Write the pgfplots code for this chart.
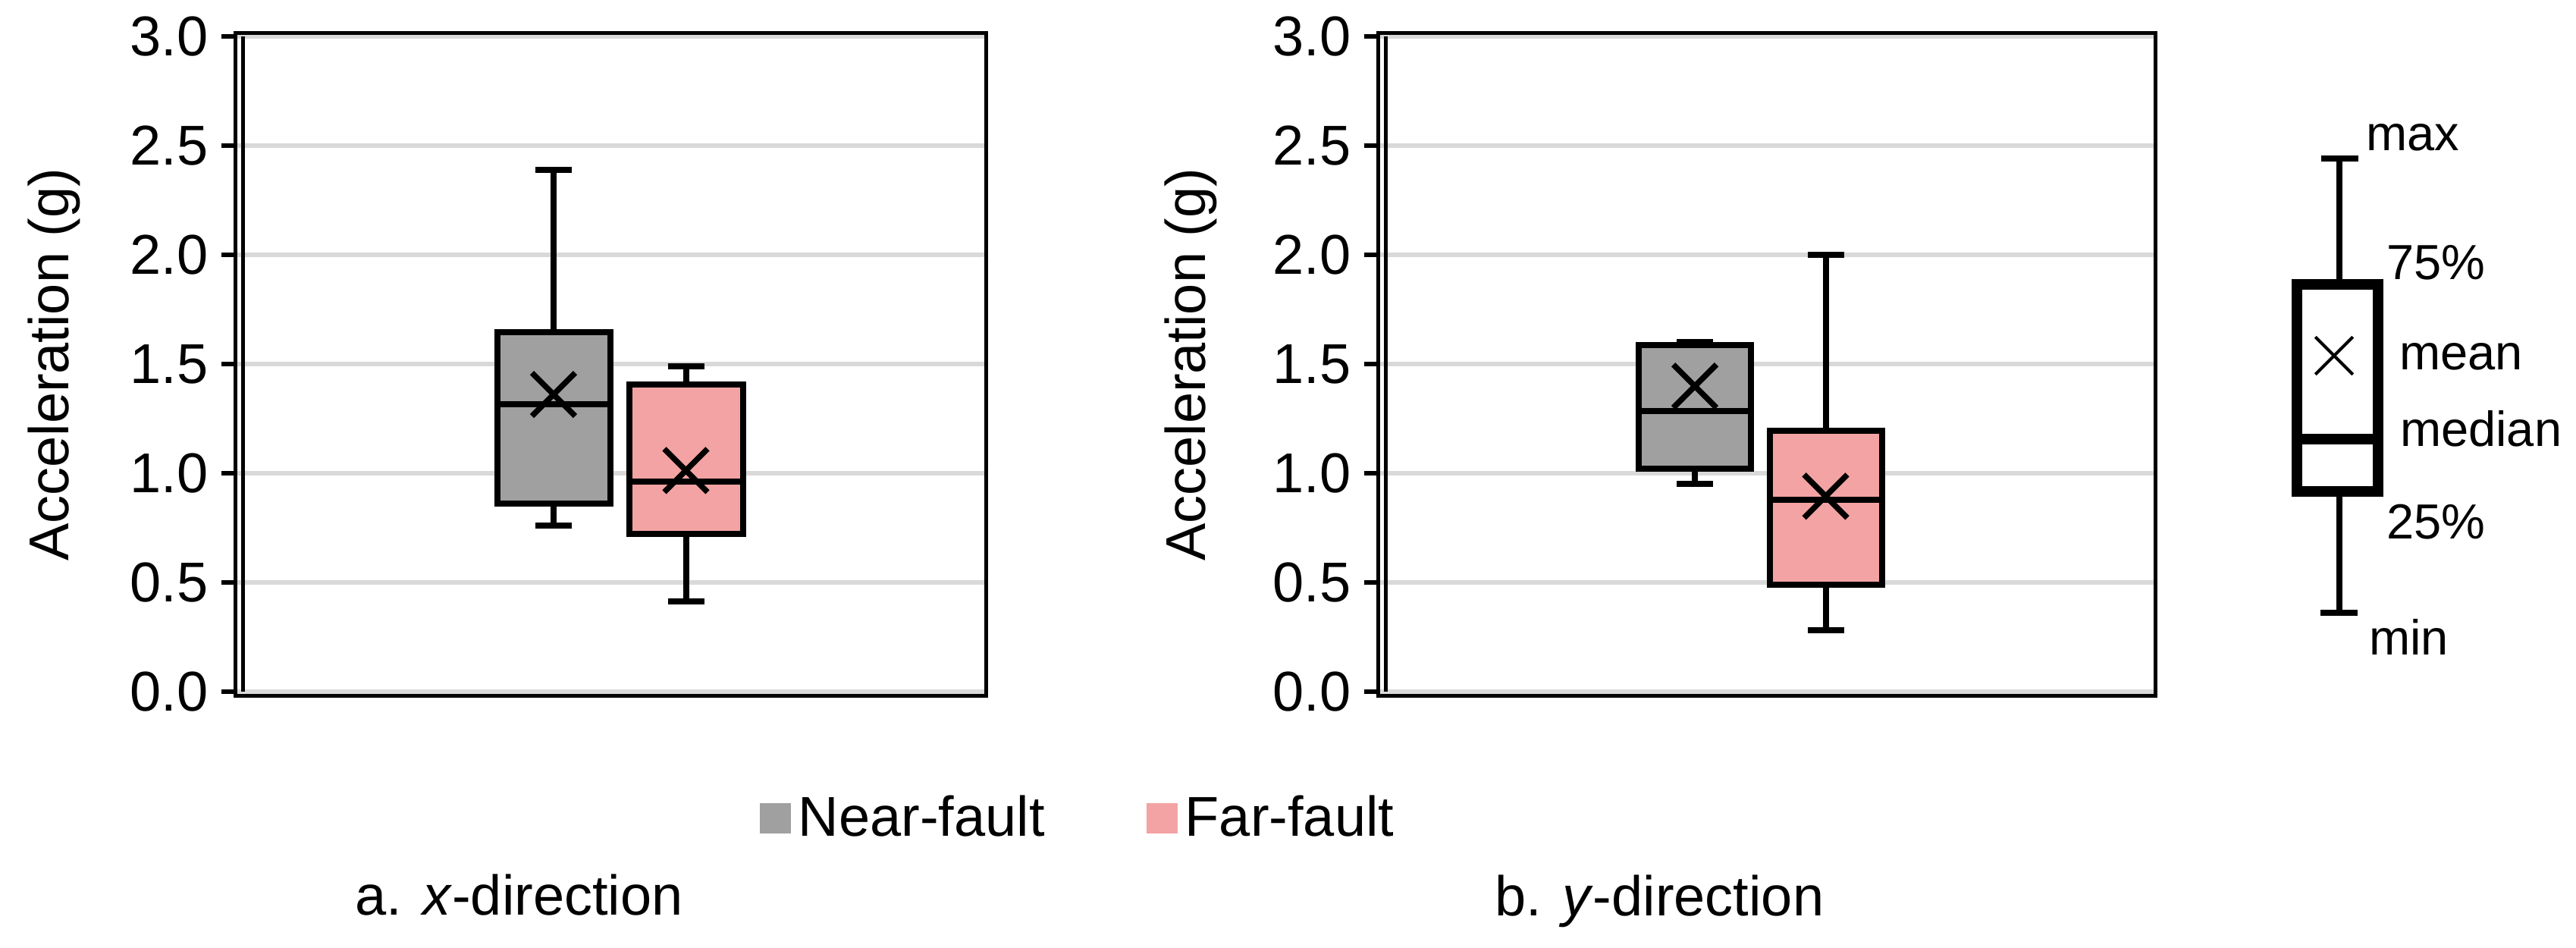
\documentclass[border=0pt]{standalone}
\usepackage{fontspec}
\setmainfont{Liberation Sans}
\usepackage{pgfplots}
\pgfplotsset{compat=1.18}
\definecolor{nearc}{HTML}{A0A0A0}
\definecolor{farc}{HTML}{F3A3A3}
\definecolor{gridc}{HTML}{D9D9D9}
\newcommand{\mainfs}{\fontsize{14.8}{17}\selectfont}
\newcommand{\keyfs}{\fontsize{13}{15}\selectfont}
\pgfplotsset{
  panel/.style={
    scale only axis,
    height=174.8pt,
    ymin=-0.02, ymax=3.015,
    xmin=0,
    axis line style={line width=1pt, black},
    ytick={0,0.5,1,1.5,2,2.5,3},
    xtick=\empty,
    ytick pos=left,
    tick align=outside,
    major tick length=3.6pt,
    tick style={black, line width=1.1pt},
    yticklabel style={/pgf/number format/.cd, fixed, fixed zerofill, precision=1, assume math mode=true},
    ticklabel style={font=\mainfs},
    ymajorgrids,
    grid style={draw=gridc, line width=1.2pt},
    ylabel={Acceleration (g)},
    every axis y label/.style={at={(axis description cs:-0.222,0.5)}, rotate=90, anchor=base, font=\mainfs},
  },
  seg/.style={draw=black, line width=1.6pt, solid, no markers, forget plot},
  bx/.style={draw=black, line width=1.6pt, solid, no markers, fill=#1, forget plot, line join=miter},
  meanmk/.style={only marks, mark=x, mark size=7.3pt, mark options={line width=1.5pt, draw=black, line cap=rect}, forget plot},
}
\begin{document}
\begin{tikzpicture}
\useasboundingbox (0,0) rectangle (679.4pt,249.8pt);

% ---- panel a: x-direction ----
\begin{axis}[panel, at={(62pt,66.24pt)}, anchor=south west, width=198pt, xmax=990,
  legend columns=2,
  legend style={at={(axis description cs:1.1263,-0.1844)}, anchor=center, draw=none, fill=none, font=\mainfs, inner sep=0pt,
    /tikz/every even column/.append style={column sep=24.8pt}},
  legend cell align=left]
% Near-fault: min 0.76, q1 0.86, median 1.317, q3 1.645, max 2.39, mean 1.361
\addplot[seg] coordinates {(420,1.645) (420,2.39)};
\addplot[seg] coordinates {(396,2.39) (444,2.39)};
\addplot[seg] coordinates {(420,0.86) (420,0.76)};
\addplot[seg] coordinates {(396,0.76) (444,0.76)};
\addplot[bx=nearc] coordinates {(345.5,0.86) (494.5,0.86) (494.5,1.645) (345.5,1.645)} -- cycle;
\addplot[seg] coordinates {(345.5,1.317) (494.5,1.317)};
% Far-fault: min 0.413, q1 0.723, median 0.961, q3 1.407, max 1.489, mean 1.013
\addplot[seg] coordinates {(594.5,1.407) (594.5,1.489)};
\addplot[seg] coordinates {(570.5,1.489) (618.5,1.489)};
\addplot[seg] coordinates {(594.5,0.723) (594.5,0.413)};
\addplot[seg] coordinates {(570.5,0.413) (618.5,0.413)};
\addplot[bx=farc] coordinates {(519.5,0.723) (669.5,0.723) (669.5,1.407) (519.5,1.407)} -- cycle;
\addplot[seg] coordinates {(519.5,0.961) (669.5,0.961)};
\addplot[meanmk] coordinates {(420,1.361) (594.5,1.013)};
\draw[line width=1pt] ([xshift=2pt]axis cs:0,0) -- ([xshift=2pt]axis cs:0,3);
\addlegendimage{legend image code/.code={\fill[nearc] (0pt,-3.8pt) rectangle (7.8pt,3.8pt);}}
\addlegendentry{Near-fault}
\addlegendimage{legend image code/.code={\fill[farc] (0pt,-3.8pt) rectangle (7.8pt,3.8pt);}}
\addlegendentry{Far-fault}
\end{axis}

% ---- panel b: y-direction ----
\begin{axis}[panel, at={(363.4pt,66.24pt)}, anchor=south west, width=205pt, xmax=1025]
% Near-fault: min 0.95, q1 1.02, median 1.285, q3 1.588, max 1.60, mean 1.399
\addplot[seg] coordinates {(418,1.588) (418,1.60)};
\addplot[seg] coordinates {(394,1.60) (442,1.60)};
\addplot[seg] coordinates {(418,1.02) (418,0.95)};
\addplot[seg] coordinates {(394,0.95) (442,0.95)};
\addplot[bx=nearc] coordinates {(344,1.02) (492,1.02) (492,1.588) (344,1.588)} -- cycle;
\addplot[seg] coordinates {(344,1.285) (492,1.285)};
% Far-fault: min 0.28, q1 0.49, median 0.88, q3 1.194, max 1.999, mean 0.895
\addplot[seg] coordinates {(590.5,1.194) (590.5,1.999)};
\addplot[seg] coordinates {(566.5,1.999) (614.5,1.999)};
\addplot[seg] coordinates {(590.5,0.49) (590.5,0.28)};
\addplot[seg] coordinates {(566.5,0.28) (614.5,0.28)};
\addplot[bx=farc] coordinates {(516.5,0.49) (664.5,0.49) (664.5,1.194) (516.5,1.194)} -- cycle;
\addplot[seg] coordinates {(516.5,0.88) (664.5,0.88)};
\addplot[meanmk] coordinates {(418,1.399) (590.5,0.895)};
\draw[line width=1pt] ([xshift=2pt]axis cs:0,0) -- ([xshift=2pt]axis cs:0,3);
\end{axis}

% ---- key and captions (canvas in pixel units) ----
\begin{axis}[at={(0pt,0pt)}, anchor=south west, scale only axis, width=679.4pt, height=249.8pt,
  xmin=0, xmax=3397, ymin=0, ymax=1249, axis lines=none, clip=false]
\addplot[draw=black, line width=1.6pt, no markers] coordinates {(3084.5,874.5) (3084.5,1040)};
\addplot[draw=black, line width=1.6pt, no markers] coordinates {(3060.5,1040) (3109.5,1040)};
\addplot[draw=black, line width=1.6pt, no markers] coordinates {(3084.5,601.5) (3084.5,441)};
\addplot[draw=black, line width=1.6pt, no markers] coordinates {(3059.5,441) (3108.5,441)};
\addplot[draw=black, fill=white, line width=2.8pt, no markers, line join=miter] coordinates {(3029,601.5) (3136,601.5) (3136,874.5) (3029,874.5)} -- cycle;
\addplot[draw=black, line width=2.8pt, no markers] coordinates {(3029,670) (3136,670)};
\addplot[only marks, mark=x, mark size=7pt, mark options={line width=0.8pt, draw=black}] coordinates {(3078,780)};
\node[anchor=base west, inner sep=0pt, font=\keyfs] at (axis cs:3119,1051) {max};
\node[anchor=base west, inner sep=0pt, font=\keyfs] at (axis cs:3146,881) {75\%};
\node[anchor=base west, inner sep=0pt, font=\keyfs] at (axis cs:3163,762) {mean};
\node[anchor=base west, inner sep=0pt, font=\keyfs] at (axis cs:3164,661) {median};
\node[anchor=base west, inner sep=0pt, font=\keyfs] at (axis cs:3146,539) {25\%};
\node[anchor=base west, inner sep=0pt, font=\keyfs] at (axis cs:3123,386) {min};
\node[anchor=base west, inner sep=0pt, font=\mainfs] at (axis cs:467,43) {a. \textit{x}-direction};
\node[anchor=base west, inner sep=0pt, font=\mainfs] at (axis cs:1970,42) {b. \textit{y}-direction};
\end{axis}
\end{tikzpicture}
\end{document}
